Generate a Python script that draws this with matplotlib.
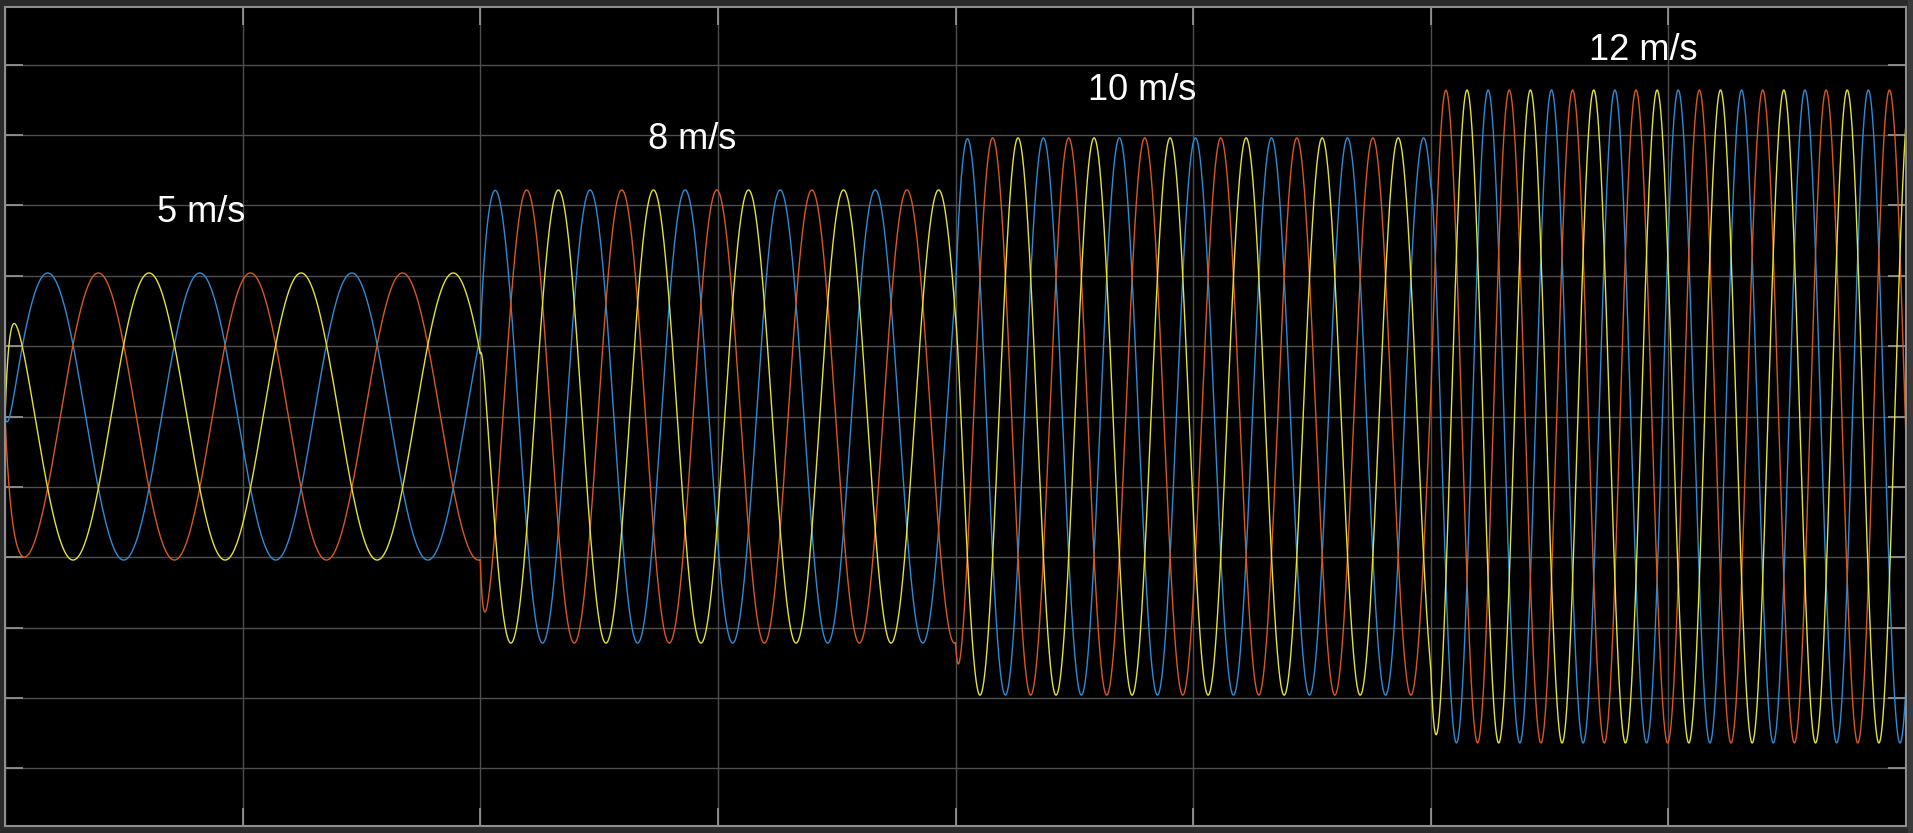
import numpy as np
import matplotlib
matplotlib.use("Agg")
import matplotlib.pyplot as plt

# wind speed steps
wind_labels = ["5 m/s", "8 m/s", "10 m/s", "12 m/s"]
seg_start = [0.0, 0.1, 0.2, 0.3]          # s
freq_hz = [31.25, 50.0, 62.5, 75.0]       # Hz
amplitude = [204, 322, 396, 464]          # V peak
settle_tau = [0.001, 0.0006, 0.0006, 0.0006]  # s, amplitude settling after each step
phase0_deg = -11.0
phase_shift_deg = [0, -120, 120]          # blue, orange, yellow

label_t = [0.0412, 0.1445, 0.2393, 0.3447]
label_v = [290, 393, 464, 520]

colors = ["#2b8cd6", "#d9581e", "#e3e332"]

t = np.linspace(0, 0.4, 40001)
idx = np.searchsorted(seg_start, t, side="right") - 1
f = np.array(freq_hz)[idx]
phase = 2 * np.pi * np.concatenate([[0], np.cumsum(f[:-1] * np.diff(t))])
phase += np.deg2rad(phase0_deg)

# amplitude steps with a short first-order lag at each change
amp = np.zeros_like(t)
prev = 0.0
for k, t0 in enumerate(seg_start):
    t1 = seg_start[k + 1] if k + 1 < len(seg_start) else 1.0
    m = (t >= t0) & (t < t1)
    amp[m] = amplitude[k] + (prev - amplitude[k]) * np.exp(-(t[m] - t0) / settle_tau[k])
    prev = amplitude[k]

fig = plt.figure(figsize=(19.13, 8.33), dpi=100, facecolor="#2a2a2a")
fig.patches.append(plt.Rectangle((1908 / 1913, 0), 5 / 1913, 1, transform=fig.transFigure,
                                 color="#3a3a3a", zorder=0))
ax = fig.add_axes([5 / 1913, 7 / 833, 1901 / 1913, 819 / 833])
ax.set_facecolor("black")

for c, sh in zip(colors, phase_shift_deg):
    ax.plot(t, amp * np.sin(phase + np.deg2rad(sh)), color=c, lw=1.0)

for s, x, y in zip(wind_labels, label_t, label_v):
    ax.text(x, y, s, color="white", fontsize=26, family="Liberation Sans",
            ha="center", va="center")

ax.set_xlim(0, 0.4)
ax.set_ylim(-582, 582)
ax.set_xticks(np.arange(0, 0.4001, 0.05))
ax.set_yticks(np.arange(-500, 501, 100))
ax.set_xticklabels([])
ax.set_yticklabels([])
ax.grid(True, color="#4e4e4e", lw=1.0)
ax.set_axisbelow(True)
ax.tick_params(direction="in", length=13, width=1.2, color="#9a9a9a",
               top=True, right=True)
for sp in ax.spines.values():
    sp.set_color("#8e8e8e")
    sp.set_linewidth(1.5)

fig.savefig("out.png", dpi=100, facecolor=fig.get_facecolor())
